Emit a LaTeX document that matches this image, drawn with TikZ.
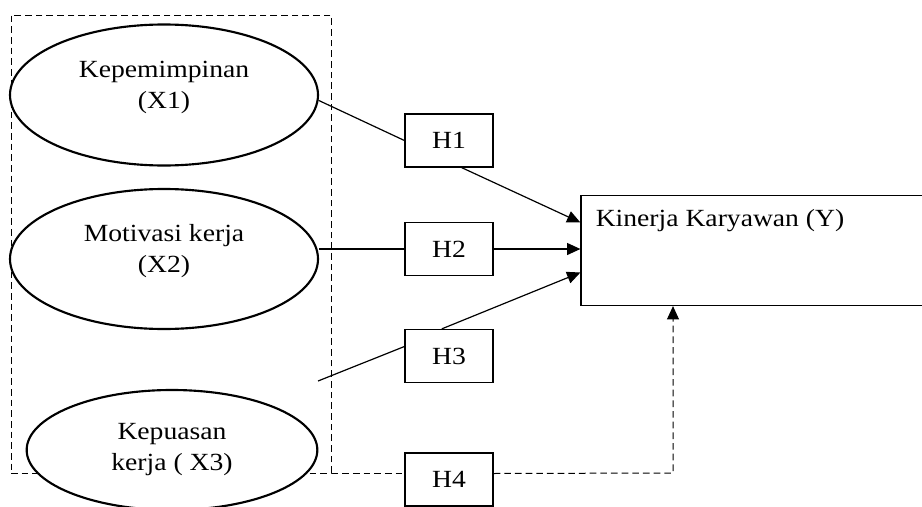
\documentclass[tikz,border=0pt]{standalone}
\usepackage{fontspec}
\setmainfont{Liberation Serif}[FakeStretch=1.12]
\usetikzlibrary{shapes.geometric,arrows.meta,calc}
\tikzstyle{var} = [ellipse, draw=black, line width=1.6pt, fill=white, align=center, inner sep=0pt]
\tikzstyle{hyp} = [rectangle, draw=black, line width=0.9pt, fill=white, minimum width=66pt, minimum height=39.75pt]
\tikzstyle{target} = [rectangle, draw=black, line width=0.9pt, minimum width=258pt, minimum height=82.5pt]
\tikzstyle{line} = [line width=0.9pt, draw=black]
\tikzstyle{arrow} = [line width=0.9pt, draw=black, -{Triangle[length=10pt,width=9pt]}]
\tikzstyle{dline} = [line width=0.75pt, draw=black, dash pattern=on 5pt off 3pt]

\begin{document}
\begin{tikzpicture}[x=0.75pt, y=-0.75pt, font=\fontsize{18.5}{23.25}\selectfont]
\useasboundingbox (0,0) rectangle (922,507);
\node (frame)[dline, minimum width=240pt, minimum height=343.5pt] at (171,244) {};
\node (x1)[var, minimum width=231pt, minimum height=105.75pt] at (164,95) {Kepemimpinan\\(X1)\\[-8pt]};
\node (x2)[var, minimum width=231pt, minimum height=105pt] at (164,259) {Motivasi kerja\\(X2)\\[-8pt]};
\node (x3)[var, minimum width=218pt, minimum height=90pt] at (172,450) {Kepuasan\\kerja ( X3)};
\node (h1)[hyp] at (449,140.5) {H1};
\node (h2)[hyp] at (449,249) {H2};
\node (h3)[hyp] at (449,356) {H3};
\node (h4)[hyp] at (449,479.5) {H4};
\node (y)[target, label={[anchor=north west, xshift=8pt, yshift=-7pt]north west:Kinerja Karyawan (Y)}] at (753,250.5) {};
\coordinate (s3) at (318,381);
\coordinate (c4) at (673,473);

\draw [line](x1.-2) -- (h1.west);
\draw [arrow](h1.-65) -- ($(y.west)+(0,-28)$);
\draw [line](h2.west -| x2.east) -- (h2.west);
\draw [arrow](h2.east) -- (h2.east -| y.west);
\draw [line](s3) -- (h3.168);
\draw [arrow](h3.105) -- ($(y.west)+(0,22)$);
\draw [dline](frame.south east) -- (frame.south east -| h4.west);
\draw [dline, -{Triangle[length=10pt,width=9pt]}](frame.south east -| h4.east) -- (c4) -- (c4 |- y.south);
\end{tikzpicture}
\end{document}
